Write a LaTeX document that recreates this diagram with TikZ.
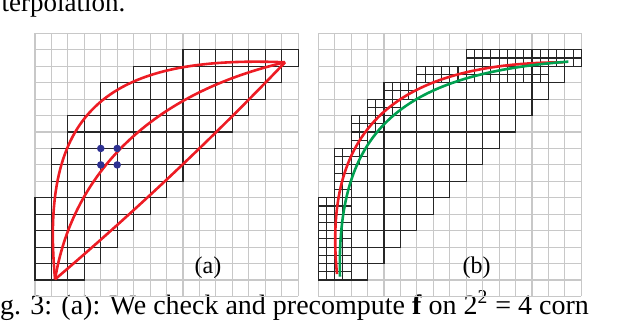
\documentclass[tikz,border=0pt]{standalone}
\usepackage{fontspec}
\setmainfont{Liberation Serif}
\usepackage{tikz}

\definecolor{curvered}{RGB}{237,28,36}
\definecolor{curvegreen}{RGB}{0,160,80}
\definecolor{gridgray}{RGB}{200,200,200}
\definecolor{dotblue}{RGB}{46,49,146}

\begin{document}
\begin{tikzpicture}[x=0.289cm,y=0.289cm]
  \tikzset{
    fine/.style={draw=gridgray,line width=0.55pt},
    cell/.style={draw=black!85,line width=0.55pt},
    redcurve/.style={draw=curvered,line width=1.3pt},
    greencurve/.style={draw=curvegreen,line width=1.3pt},
    panellabel/.style={font=\fontsize{12}{14}\selectfont}
  }
  \useasboundingbox (-2.129,-2.044) rectangle (35.46,18.03);

  % text cut off by the page
  \node[anchor=base west,inner sep=0pt,font=\fontsize{13.5}{16}\selectfont]
    (prevline) at (-2.05,17.3) {terpolation.};
  \node[anchor=base west,inner sep=0pt,font=\fontsize{14}{16}\selectfont]
    (caption) at (-2.15,-1.07)
    {g. 3: (a): We check and precompute \textbf{f} on 2\textsuperscript{2} = 4 corn};

  % panel (a)
  \foreach \k in {0,...,16}
    \draw[fine] (\k,0) -- (\k,16) (0,\k) -- (16,\k);
  \foreach \j/\a/\b in {1/0/2,2/0/3,3/0/4,4/0/5,5/0/6,6/1/7,7/1/8,8/1/9,
                        9/2/10,10/2/11,11/4/12,12/4/13,13/6/14,14/9/15}
    \foreach \i in {\a,...,\b}
      \draw[cell] (\i,\j) rectangle ++(1,1);

  \draw[redcurve] (1.22,1.04) .. controls (0.3,11) and (4,14.7) .. (15.21,14.24);
  \draw[redcurve] (1.22,1.04) .. controls (2.2,7) and (6.5,12.2) .. (15.21,14.24);
  \draw[redcurve] (1.22,1.04) .. controls (6.11,5.2) and (10.77,9.6) .. (15.21,14.24);

  % the 2^2 corners
  \foreach \p in {(4,8),(5,8),(4,9),(5,9)}
    \fill[dotblue] \p circle (0.23);

  \node[panellabel] (labela) at (10.52,1.73) {(a)};

  % panel (b)
  \begin{scope}[shift={(17.23,0)}]
    \foreach \k in {0,...,16}
      \draw[fine] (\k,0) -- (\k,16) (0,\k) -- (16,\k);
    \foreach \j/\a/\b in {1/0/2,2/0/3,3/0/4,4/0/5,5/0/6,6/1/7,7/1/8,8/1/9,
                          9/2/10,10/2/11,11/3/12,12/4/13,13/6/14,14/9/15}
      \foreach \i in {\a,...,\b}
        \draw[cell] (\i,\j) rectangle ++(1,1);

    % refined cells along the curve
    \foreach \i/\j in {0/1,1/1,0/2,1/2,0/3,1/3,0/4,1/4,0/5,1/5,1/6,1/7,1/8,2/8,
                       2/9,2/10,3/10,3/11,4/11,4/12,5/12,
                       6/13,7/13,8/13,9/13,10/13,11/13,12/13,13/13,
                       9/14,10/14,11/14,12/14,13/14,14/14,15/14}
      \draw[cell] (\i+0.5,\j) -- ++(0,1) (\i,\j+0.5) -- ++(1,0);

    \draw[redcurve] (1.14,1.36) .. controls (0.3,9.8) and (4.2,14.2) .. (14.9,14.24);
    \draw[greencurve] (1.32,1.2) .. controls (1.1,9.8) and (4.6,13.5) .. (15.21,14.28);

    \node[panellabel] (labelb) at (9.63,1.73) {(b)};
  \end{scope}
\end{tikzpicture}
\end{document}
